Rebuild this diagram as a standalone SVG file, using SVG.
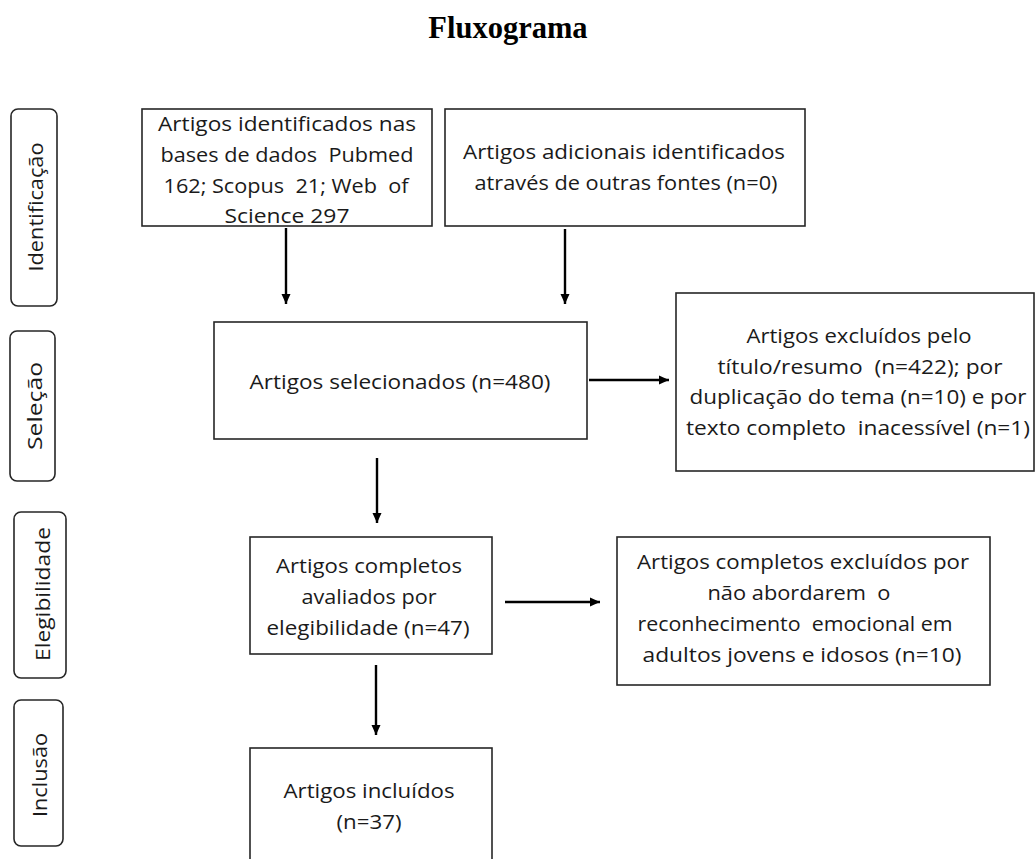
<svg xmlns="http://www.w3.org/2000/svg" width="1036" height="859" viewBox="0 0 1036 859">
<defs>
<style>
.box{fill:#fff;stroke:#262626;stroke-width:1.6}
.side{fill:#fff;stroke:#262626;stroke-width:1.6}
.t{font-family:"Open Sans","Liberation Sans",sans-serif;font-size:20.5px;fill:#1a1a1a;text-anchor:middle}
.conn line{stroke:#000;stroke-width:2.4;marker-end:url(#ah)}
.title{font-family:"Liberation Serif","Times New Roman",serif;font-weight:bold;font-size:30.5px;fill:#000;text-anchor:middle}
</style>
<marker id="ah" markerUnits="userSpaceOnUse" markerWidth="12" markerHeight="12" refX="10" refY="6" orient="auto">
<path d="M0,1.5 L10,6 L0,10.5 z" fill="#000"/>
</marker>
</defs>
<rect width="1036" height="859" fill="#fff"/>
<text class="title" x="508" y="38">Fluxograma</text>

<g id="stage-identificacao">
<rect class="side" x="11" y="109" width="46" height="197" rx="7"/>
<text class="t" transform="translate(43,207) rotate(-90)" textLength="129" lengthAdjust="spacingAndGlyphs">Identificação</text>
</g>
<g id="stage-selecao">
<rect class="side" x="10" y="331" width="45" height="150" rx="7"/>
<text class="t" transform="translate(42,406) rotate(-90)" textLength="88" lengthAdjust="spacingAndGlyphs">Seleção</text>
</g>
<g id="stage-elegibilidade">
<rect class="side" x="14" y="512" width="52" height="166" rx="7"/>
<text class="t" transform="translate(50,594) rotate(-90)" textLength="134" lengthAdjust="spacingAndGlyphs">Elegibilidade</text>
</g>
<g id="stage-inclusao">
<rect class="side" x="14" y="700" width="49" height="146" rx="7"/>
<text class="t" transform="translate(47,775) rotate(-90)" textLength="84" lengthAdjust="spacingAndGlyphs">Inclusão</text>
</g>

<g id="n-identificados">
<rect class="box" x="142" y="109" width="290" height="117"/>
<text class="t" x="287" y="131" textLength="258" lengthAdjust="spacingAndGlyphs">Artigos identificados nas</text>
<text class="t" x="287" y="162" textLength="253" lengthAdjust="spacingAndGlyphs" xml:space="preserve">bases de dados  Pubmed</text>
<text class="t" x="286" y="193" textLength="245" lengthAdjust="spacingAndGlyphs" xml:space="preserve">162; Scopus  21; Web  of</text>
<text class="t" x="287" y="223" textLength="125" lengthAdjust="spacingAndGlyphs">Science 297</text>
</g>
<g id="n-adicionais">
<rect class="box" x="445" y="109" width="360" height="117"/>
<text class="t" x="624" y="159" textLength="322" lengthAdjust="spacingAndGlyphs">Artigos adicionais identificados</text>
<text class="t" x="626" y="190" textLength="303" lengthAdjust="spacingAndGlyphs">através de outras fontes (n=0)</text>
</g>
<g id="n-selecionados">
<rect class="box" x="214" y="322" width="373" height="117"/>
<text class="t" x="400" y="389" textLength="301" lengthAdjust="spacingAndGlyphs">Artigos selecionados (n=480)</text>
</g>
<g id="n-excluidos">
<rect class="box" x="676" y="293" width="358" height="178"/>
<text class="t" x="859" y="343" textLength="225" lengthAdjust="spacingAndGlyphs">Artigos excluídos pelo</text>
<text class="t" x="860" y="374" textLength="285" lengthAdjust="spacingAndGlyphs" xml:space="preserve">título/resumo  (n=422); por</text>
<text class="t" x="858" y="404" textLength="337" lengthAdjust="spacingAndGlyphs">duplicação do tema (n=10) e por</text>
<text class="t" x="858" y="435" textLength="344" lengthAdjust="spacingAndGlyphs" xml:space="preserve">texto completo  inacessível (n=1)</text>
</g>
<g id="n-avaliados">
<rect class="box" x="250" y="537" width="242" height="117"/>
<text class="t" x="369" y="573" textLength="186" lengthAdjust="spacingAndGlyphs">Artigos completos</text>
<text class="t" x="369" y="604" textLength="135" lengthAdjust="spacingAndGlyphs">avaliados por</text>
<text class="t" x="368" y="635" textLength="203" lengthAdjust="spacingAndGlyphs">elegibilidade (n=47)</text>
</g>
<g id="n-completos-excluidos">
<rect class="box" x="617" y="537" width="373" height="148"/>
<text class="t" x="803" y="569" textLength="332" lengthAdjust="spacingAndGlyphs">Artigos completos excluídos por</text>
<text class="t" x="799" y="600" textLength="183" lengthAdjust="spacingAndGlyphs" xml:space="preserve">não abordarem  o</text>
<text class="t" x="795" y="631" textLength="315" lengthAdjust="spacingAndGlyphs" xml:space="preserve">reconhecimento  emocional em</text>
<text class="t" x="802" y="662" textLength="319" lengthAdjust="spacingAndGlyphs">adultos jovens e idosos (n=10)</text>
</g>
<g id="n-incluidos">
<rect class="box" x="250" y="748" width="242" height="130"/>
<text class="t" x="369" y="798" textLength="171" lengthAdjust="spacingAndGlyphs">Artigos incluídos</text>
<text class="t" x="369" y="829" textLength="65" lengthAdjust="spacingAndGlyphs">(n=37)</text>
</g>

<g id="connectors" class="conn">
<line x1="286" y1="228" x2="286" y2="304"/>
<line x1="565" y1="229" x2="565" y2="304"/>
<line x1="589" y1="380" x2="669" y2="380"/>
<line x1="377" y1="458" x2="377" y2="523"/>
<line x1="505" y1="602" x2="600" y2="602"/>
<line x1="376" y1="665" x2="376" y2="735"/>
</g>
</svg>
